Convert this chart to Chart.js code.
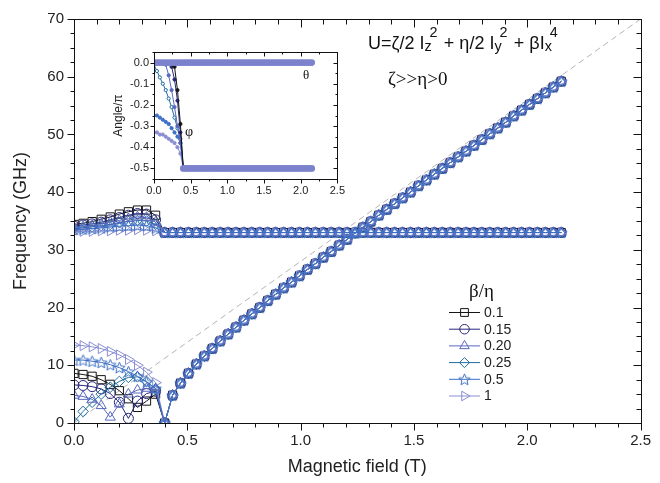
<!DOCTYPE html>
<html>
<head>
<meta charset="utf-8">
<script src="https://cdn.jsdelivr.net/npm/chart.js@4.4.1/dist/chart.umd.min.js"></script>
<style>
  html, body { margin: 0; padding: 0; background: #fff; }
  #wrap { position: relative; width: 660px; height: 483px; overflow: hidden; }
  #mainChart { position: absolute; left: 0; top: 0; }
  #insetChart { position: absolute; left: 108px; top: 40px; }
  .note { position: absolute; line-height: 1; white-space: nowrap; color: #111; }
  .sans { font-family: 'Liberation Sans', Arial, sans-serif; }
  .serif { font-family: 'Liberation Serif', 'Times New Roman', serif; }
  .st { display: inline-block; position: relative; width: 0.8em; height: 1em; }
  .st .up { position: absolute; left: 0.35em; top: -0.45em; font-size: 0.8em; }
  .st .dn { position: absolute; left: 0; top: 0.55em; font-size: 0.8em; }
</style>
</head>
<body>
<div id="wrap">
  <canvas id="mainChart" width="660" height="483"></canvas>
  <canvas id="insetChart" width="242" height="165"></canvas>
  <div class="note sans" style="left:368px; top:31px; font-size:18px;">U=ζ/2 I<span class="st"><span class="up">2</span><span class="dn">z</span></span> + η/2 I<span class="st"><span class="up">2</span><span class="dn">y</span></span> + βI<span class="st"><span class="up">4</span><span class="dn">x</span></span></div>
  <div class="note serif" style="left:388px; top:69px; font-size:19px;">ζ&gt;&gt;η&gt;0</div>
  <div class="note serif" style="left:469px; top:281px; font-size:19px;">β/η</div>
  <div class="note serif" style="left:303px; top:68px; font-size:13px;">θ</div>
  <div class="note serif" style="left:185px; top:125px; font-size:14px;">φ</div>
</div>
<script>
// field values (T)
const fieldLow = [0, 0.04, 0.08, 0.12, 0.16, 0.2, 0.24, 0.28, 0.32, 0.36];
const fieldHigh = [0.4, 0.435, 0.47, 0.505, 0.54, 0.575, 0.61, 0.645, 0.68, 0.715,
  0.75, 0.785, 0.82, 0.855, 0.89, 0.925, 0.96, 0.995, 1.03, 1.065,
  1.1, 1.135, 1.17, 1.205, 1.24, 1.275, 1.31, 1.345, 1.38, 1.415,
  1.45, 1.485, 1.52, 1.555, 1.59, 1.625, 1.66, 1.695, 1.73, 1.765,
  1.8, 1.835, 1.87, 1.905, 1.94, 1.975, 2.01, 2.045, 2.08, 2.115, 2.15];

const betaLabels = ['0.1', '0.15', '0.20', '0.25', '0.5', '1'];

// frequency (GHz) below 0.4 T, one row per beta/eta
const lowerLow = [
  [8.6, 8.4, 8.1, 7.5, 6.7, 5.6, 4.2, 2.7, 3.8, 5.0],
  [6.6, 6.5, 6.3, 5.9, 5.1, 3.6, 0.8, 3.8, 5.1, 5.5],
  [4.8, 4.6, 4.1, 3.0, 1.0, 3.3, 5.0, 5.7, 6.0, 5.8],
  [0.2, 2.0, 3.6, 5.0, 6.2, 7.2, 7.9, 8.0, 7.2, 5.9],
  [10.9, 10.9, 10.7, 10.5, 10.1, 9.6, 8.9, 8.1, 7.1, 6.0],
  [13.5, 13.4, 13.2, 12.9, 12.4, 11.8, 11.0, 10.0, 8.8, 7.0]
];
const upperLow = [
  [34.4, 34.6, 34.9, 35.3, 35.7, 36.2, 36.6, 36.9, 36.9, 36.0],
  [34.1, 34.3, 34.5, 34.8, 35.2, 35.6, 36.0, 36.3, 36.2, 35.2],
  [33.9, 34.0, 34.2, 34.5, 34.8, 35.1, 35.4, 35.7, 35.6, 34.8],
  [33.7, 33.8, 34.0, 34.2, 34.4, 34.7, 34.9, 35.1, 35.0, 34.4],
  [33.5, 33.6, 33.7, 33.8, 34.0, 34.1, 34.2, 34.3, 34.2, 33.8],
  [33.1, 33.2, 33.2, 33.3, 33.3, 33.4, 33.4, 33.5, 33.4, 33.3]
];
// above 0.4 T all beta curves coincide
const lowerHigh = [0, 4.8, 6.9, 8.6, 10.2, 11.6, 12.9, 14.2, 15.4, 16.6,
  17.8, 18.9, 20.0, 21.2, 22.3, 23.4, 24.4, 25.5, 26.6, 27.6,
  28.7, 29.7, 30.8, 31.8, 32.9, 33.9, 34.9, 36.0, 37.0, 38.0,
  39.0, 40.0, 41.1, 42.1, 43.1, 44.1, 45.1, 46.1, 47.1, 48.1,
  49.1, 50.1, 51.1, 52.1, 53.2, 54.2, 55.2, 56.2, 57.2, 58.2, 59.2];
const upperHigh = [33.0, 33.0, 33.0, 33.0, 33.0, 33.0, 33.0, 33.0, 33.0, 33.0,
  33.0, 33.0, 33.0, 33.0, 33.0, 33.0, 33.0, 33.0, 33.0, 33.0,
  33.0, 33.0, 33.0, 33.0, 33.0, 33.0, 33.0, 33.0, 33.0, 33.0,
  33.0, 33.0, 33.0, 33.0, 33.0, 33.0, 33.0, 33.0, 33.0, 33.0,
  33.0, 33.0, 33.0, 33.0, 33.0, 33.0, 33.0, 33.0, 33.0, 33.0, 33.0];

// dashed reference line
const guideField = [0, 2.5];
const guideFreq = [0, 70];

// inset: angle / pi
const phiLow = [
  [0, 0, 0, 0, 0, 0, 0, -0.02, -0.13, -0.29],
  [0, 0, 0, 0, 0, 0, -0.02, -0.08, -0.18, -0.33],
  [0, 0, 0, 0, -0.01, -0.06, -0.13, -0.21, -0.30, -0.38],
  [-0.01, -0.04, -0.07, -0.10, -0.13, -0.17, -0.21, -0.26, -0.31, -0.36],
  [-0.25, -0.25, -0.26, -0.27, -0.28, -0.29, -0.31, -0.33, -0.35, -0.38],
  [-0.33, -0.33, -0.34, -0.34, -0.35, -0.36, -0.37, -0.38, -0.40, -0.43]
];
const phiHigh = [-0.5, -0.5, -0.5, -0.5, -0.5, -0.5, -0.5, -0.5, -0.5, -0.5,
  -0.5, -0.5, -0.5, -0.5, -0.5, -0.5, -0.5, -0.5, -0.5, -0.5,
  -0.5, -0.5, -0.5, -0.5, -0.5, -0.5, -0.5, -0.5, -0.5, -0.5,
  -0.5, -0.5, -0.5, -0.5, -0.5, -0.5, -0.5, -0.5, -0.5, -0.5,
  -0.5, -0.5, -0.5, -0.5, -0.5, -0.5, -0.5, -0.5, -0.5, -0.5, -0.5];
const thetaLow = [0, 0, 0, 0, 0, 0, 0, 0, 0, 0];
const thetaHigh = [0, 0, 0, 0, 0, 0, 0, 0, 0, 0,
  0, 0, 0, 0, 0, 0, 0, 0, 0, 0,
  0, 0, 0, 0, 0, 0, 0, 0, 0, 0,
  0, 0, 0, 0, 0, 0, 0, 0, 0, 0,
  0, 0, 0, 0, 0, 0, 0, 0, 0, 0, 0];

// tick labels
const mainXTicks = [0, 0.5, 1, 1.5, 2, 2.5];
const mainYTicks = [0, 10, 20, 30, 40, 50, 60, 70];
const insetXTicks = [0, 0.5, 1, 1.5, 2, 2.5];
const insetYTicks = [-0.5, -0.4, -0.3, -0.2, -0.1, 0];

const SANS = "'Liberation Sans', Arial, sans-serif";
const betaColors = ['#151515', '#26267a', '#5a68c0', '#1f6e9e', '#3d6fc4', '#8a8ed2'];
const rowColor = '#7c82cc';

function makeStar(color, r) {
  const c = document.createElement('canvas');
  const s = Math.ceil(r * 2 + 3);
  c.width = s; c.height = s;
  const g = c.getContext('2d');
  g.strokeStyle = color; g.lineWidth = 1;
  g.beginPath();
  for (let k = 0; k < 10; k++) {
    const rr = k % 2 ? r * 0.45 : r;
    const ang = -Math.PI / 2 + k * Math.PI / 5;
    const px = s / 2 + rr * Math.cos(ang), py = s / 2 + 0.6 + rr * Math.sin(ang);
    if (k) g.lineTo(px, py); else g.moveTo(px, py);
  }
  g.closePath(); g.stroke();
  return c;
}

const betaStyles = ['rect', 'circle', 'triangle', 'rectRot', makeStar(betaColors[4], 6), 'triangle'];
const betaRadius = [5.8, 5, 5.8, 5.3, 6, 5.8];
const betaRotation = [0, 0, 0, 0, 0, 90];
const betaOrder = [6, 5, 3, 4, 1, 2];

function pts(xs, ys) { return xs.map((x, i) => ({ x, y: ys[i] })); }
const fixTicks = list => s => { s.ticks = list.map(v => ({ value: v })); };

// frame with Origin-like ticks: out on bottom/left, in on top/right
const frameTicks = {
  id: 'frameTicks',
  afterDraw(chart, args, o) {
    const { ctx, chartArea: a, scales: { x, y } } = chart;
    ctx.save();
    ctx.strokeStyle = '#111'; ctx.lineWidth = 1;
    ctx.strokeRect(Math.round(a.left) + 0.5, Math.round(a.top) + 0.5,
      Math.round(a.right - a.left), Math.round(a.bottom - a.top));
    ctx.beginPath();
    for (let v = x.min; v <= x.max + 1e-9; v += o.xMinor) {
      const major = Math.abs(v / o.xMajor - Math.round(v / o.xMajor)) < 1e-6;
      const px = Math.round(x.getPixelForValue(v)) + 0.5;
      const b = Math.round(a.bottom) + 0.5, t = Math.round(a.top) + 0.5;
      ctx.moveTo(px, b); ctx.lineTo(px, b + (major ? o.outMajor : o.outMinor));
      ctx.moveTo(px, t); ctx.lineTo(px, t + (major ? o.inMajor : o.inMinor));
    }
    for (let v = y.min; v <= y.max + 1e-9; v += o.yMinor) {
      const major = Math.abs(v / o.yMajor - Math.round(v / o.yMajor)) < 1e-6;
      const py = Math.round(y.getPixelForValue(v)) + 0.5;
      const l = Math.round(a.left) + 0.5, r = Math.round(a.right) + 0.5;
      ctx.moveTo(l, py); ctx.lineTo(l - (major ? o.outMajor : o.outMinor), py);
      ctx.moveTo(r, py); ctx.lineTo(r - (major ? o.inMajor : o.inMinor), py);
    }
    ctx.stroke();
    ctx.restore();
  }
};

const betaLegend = {
  id: 'betaLegend',
  afterDatasetsDraw(chart) {
    const ctx = chart.ctx;
    betaLabels.forEach((label, i) => {
      const yy = 312.5 + i * 16.7;
      ctx.save();
      ctx.strokeStyle = betaColors[i]; ctx.fillStyle = 'rgba(255,255,255,0)'; ctx.lineWidth = 1;
      ctx.beginPath(); ctx.moveTo(449, yy); ctx.lineTo(480, yy); ctx.stroke();
      Chart.helpers.drawPoint(ctx, { pointStyle: betaStyles[i], radius: betaRadius[i] * 0.95,
        rotation: betaRotation[i], borderWidth: 1 }, 464.5, yy);
      ctx.fillStyle = '#222'; ctx.font = '14px ' + SANS; ctx.textBaseline = 'middle';
      ctx.fillText(label, 484, yy + 0.5);
      ctx.restore();
    });
  }
};

const mainSets = [];
betaLabels.forEach((label, i) => {
  const style = {
    borderColor: betaColors[i], backgroundColor: 'rgba(255,255,255,0)', borderWidth: 1,
    pointStyle: betaStyles[i], pointRadius: betaRadius[i], pointRotation: betaRotation[i],
    pointBorderWidth: 1, pointBorderColor: betaColors[i], pointBackgroundColor: 'rgba(255,255,255,0)',
    tension: 0, order: betaOrder[i]
  };
  mainSets.push({ label: label, data: pts(fieldLow.concat(fieldHigh), lowerLow[i].concat(lowerHigh)), ...style });
  mainSets.push({ label: label + ' upper', data: pts(fieldLow.concat(fieldHigh), upperLow[i].concat(upperHigh)), ...style });
});
mainSets.push({
  label: 'guide', data: pts(guideField, guideFreq), borderColor: '#b4b4b4', borderWidth: 1,
  borderDash: [6, 4], pointRadius: 0, order: 20
});

new Chart(document.getElementById('mainChart'), {
  type: 'line',
  data: { datasets: mainSets },
  options: {
    responsive: false, animation: false, devicePixelRatio: 1,
    layout: { padding: { top: 17, right: 11, left: 0, bottom: 0 } },
    plugins: {
      legend: { display: false }, tooltip: { enabled: false },
      frameTicks: { xMajor: 0.5, xMinor: 0.1, yMajor: 10, yMinor: 2.5, outMajor: 7, outMinor: 4, inMajor: 8, inMinor: 5 }
    },
    scales: {
      x: {
        type: 'linear', min: 0, max: 2.5,
        afterBuildTicks: fixTicks(mainXTicks),
        ticks: { callback: v => v.toFixed(1), color: '#222', font: { family: SANS, size: 15 }, padding: 9, maxRotation: 0, autoSkip: false },
        grid: { display: false, drawTicks: false }, border: { display: false },
        title: { display: true, text: 'Magnetic field (T)', color: '#222', font: { family: SANS, size: 18 }, padding: { top: 0, bottom: 5 } },
        afterFit: s => { s.height = 60; }
      },
      y: {
        min: 0, max: 70,
        afterBuildTicks: fixTicks(mainYTicks),
        ticks: { color: '#222', font: { family: SANS, size: 15 }, padding: 10, autoSkip: false },
        grid: { display: false, drawTicks: false }, border: { display: false },
        title: { display: true, text: 'Frequency (GHz)', color: '#222', font: { family: SANS, size: 18 }, padding: { top: 10, bottom: 0 } },
        afterFit: s => { s.width = 74; }
      }
    }
  },
  plugins: [frameTicks, betaLegend]
});

const insetSets = [];
betaLabels.forEach((label, i) => {
  insetSets.push({
    label: 'phi ' + label, data: pts(fieldLow.concat([0.4]), phiLow[i].concat([-0.5])),
    borderColor: betaColors[i], borderWidth: 1, pointRadius: 1.6, pointBorderWidth: 1,
    pointBorderColor: betaColors[i], pointBackgroundColor: i === 3 ? '#fff' : betaColors[i], order: 5 + i
  });
});
insetSets.push({
  label: 'phi high', data: pts(fieldHigh, phiHigh), borderColor: rowColor, borderWidth: 2,
  pointRadius: 2.4, pointBackgroundColor: rowColor, pointBorderColor: rowColor, order: 1
});
insetSets.push({
  label: 'theta', data: pts(fieldLow.concat(fieldHigh), thetaLow.concat(thetaHigh)), borderColor: rowColor, borderWidth: 2,
  pointRadius: 2.4, pointBackgroundColor: rowColor, pointBorderColor: rowColor, order: 0
});

new Chart(document.getElementById('insetChart'), {
  type: 'line',
  data: { datasets: insetSets },
  options: {
    responsive: false, animation: false, devicePixelRatio: 1,
    layout: { padding: { top: 12, right: 9, left: 0, bottom: 0 } },
    plugins: {
      legend: { display: false }, tooltip: { enabled: false },
      frameTicks: { xMajor: 0.5, xMinor: 0.25, yMajor: 0.1, yMinor: 0.05, outMajor: 4, outMinor: 2, inMajor: 4, inMinor: 2 }
    },
    scales: {
      x: {
        type: 'linear', min: 0, max: 2.5,
        afterBuildTicks: fixTicks(insetXTicks),
        ticks: { callback: v => v.toFixed(1), color: '#222', font: { family: SANS, size: 11 }, padding: 5, maxRotation: 0, autoSkip: false },
        grid: { display: false, drawTicks: false }, border: { display: false },
        afterFit: s => { s.height = 26; }
      },
      y: {
        min: -0.55, max: 0.05,
        afterBuildTicks: fixTicks(insetYTicks),
        ticks: { callback: v => v.toFixed(1), color: '#222', font: { family: SANS, size: 11 }, padding: 5, autoSkip: false },
        grid: { display: false, drawTicks: false }, border: { display: false },
        title: { display: true, text: 'Angle/π', color: '#222', font: { family: SANS, size: 12 }, padding: { top: 3, bottom: 0 } },
        afterFit: s => { s.width = 46; }
      }
    }
  },
  plugins: [frameTicks]
});
</script>
</body>
</html>
